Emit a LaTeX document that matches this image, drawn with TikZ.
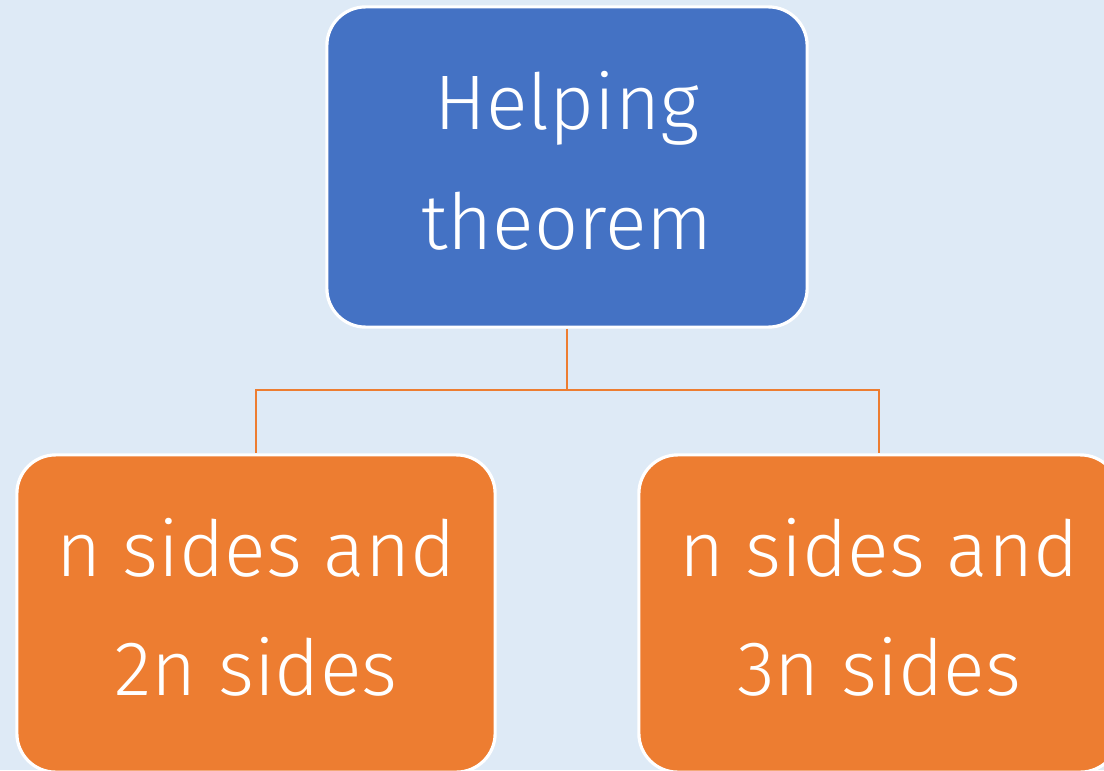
\documentclass[tikz,border=0pt]{standalone}
\usepackage{fontspec}
\setmainfont{Fira Sans Light}
\definecolor{bgblue}{HTML}{DEEAF6}
\definecolor{topblue}{HTML}{4472C4}
\definecolor{leaforange}{HTML}{ED7D31}
\tikzset{
  box/.style={draw=white, line width=0.9pt, rounded corners=11pt, text=white,
    align=center, minimum width=4.8cm, minimum height=3.2cm, text depth=0.13cm,
    font=\fontsize{22}{34}\selectfont},
  link/.style={draw=leaforange, line width=0.8pt}
}
\begin{document}
\begin{tikzpicture}[x=0.01cm, y=-0.01cm]
\useasboundingbox (0,0) rectangle (1104,770);
\clip (0,0) rectangle (1104,770);
\fill[bgblue] (0,0) rectangle (1104,770);
\node[box, fill=topblue] (helping) at (567,167) {Helping\\theorem};
\node[box, fill=leaforange, minimum width=4.78cm, minimum height=3.17cm] (twon) at (256,613.5) {n sides and\\2n sides};
\node[box, fill=leaforange, minimum height=3.17cm] (threen) at (879,613.5) {n sides and\\3n sides};
\coordinate (split) at (567,390);
\draw[link] (helping.south) -- (split) -| (twon.north);
\draw[link] (split) -| (threen.north);
\end{tikzpicture}
\end{document}
